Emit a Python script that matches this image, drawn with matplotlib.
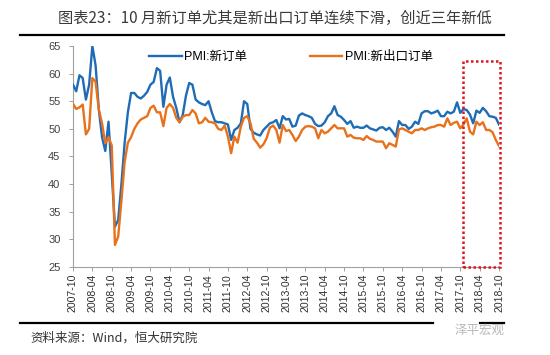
import matplotlib
matplotlib.use("Agg")
import matplotlib.pyplot as plt
from matplotlib.patches import Rectangle
from matplotlib.lines import Line2D

plt.rcParams['font.family'] = ['Liberation Sans', 'Noto Sans CJK SC', 'DejaVu Sans']

# ---- data: monthly, 2007-10 .. 2018-10 ----
start_year, start_month = 2007, 10
new_orders = [
    58.0, 56.8, 59.7,                                                  # 2007-10..12
    59.2, 55.3, 58.0, 65.0, 61.5, 53.5, 48.5, 46.0, 51.3, 42.0, 32.3, 33.5,  # 2008
    40.0, 47.5, 53.0, 56.5, 56.5, 55.8, 55.5, 56.0, 56.7, 58.0, 58.5, 61.0,  # 2009
    60.5, 54.0, 58.0, 59.3, 55.8, 53.8, 51.2, 52.5, 56.0, 58.3, 58.0, 55.3,  # 2010
    54.8, 54.5, 54.3, 55.0, 53.0, 51.4, 51.2, 51.2, 51.0, 50.8, 48.0, 49.8,  # 2011
    50.2, 51.0, 55.0, 54.5, 50.0, 49.3, 49.0, 48.8, 49.8, 50.4, 51.0, 51.2,  # 2012
    51.6, 50.1, 52.3, 51.7, 51.8, 50.4, 50.6, 52.4, 52.8, 52.5, 52.3, 52.0,  # 2013
    50.9, 50.5, 50.6, 51.2, 52.3, 52.8, 54.1, 52.5, 52.2, 51.6, 50.9, 51.4,  # 2014
    50.2, 50.4, 50.2, 50.2, 50.6, 50.1, 49.9, 49.7, 50.2, 50.3, 49.8, 50.2,  # 2015
    49.5, 48.6, 51.4, 50.7, 50.7, 50.0, 50.4, 51.3, 50.9, 52.8, 53.2, 53.2,  # 2016
    52.8, 53.0, 53.3, 52.3, 52.3, 53.1, 52.8, 53.1, 54.8, 52.9, 53.6, 53.4,  # 2017
    52.6, 51.0, 53.3, 52.9, 53.8, 53.2, 52.3, 52.2, 52.0, 50.8,              # 2018-01..10
]
new_export_orders = [
    54.5, 53.6, 53.9,
    54.4, 49.0, 50.0, 59.2, 58.5, 53.5, 51.0, 47.4, 48.5, 47.0, 29.0, 30.5,
    37.0, 44.0, 47.5, 48.5, 50.0, 51.0, 51.7, 52.0, 52.3, 53.8, 54.2, 53.0,
    53.0, 50.5, 53.8, 54.5, 53.8, 52.0, 51.2, 52.2, 52.5, 52.5, 53.4, 52.8,
    51.0, 51.2, 52.0, 51.3, 51.2, 51.0, 50.0, 49.8, 50.6, 48.6, 45.6, 48.6,
    47.5, 50.4, 52.0, 52.3, 51.0, 48.2, 47.5, 46.6, 47.2, 48.3, 50.2, 50.6,
    49.8, 47.5, 50.7, 49.6, 49.8, 48.9, 47.8, 48.6, 49.8, 50.4, 50.5, 50.4,
    50.1, 48.3, 49.8, 49.2, 49.5, 50.1, 50.7, 50.1, 50.1, 50.1, 48.6, 48.9,
    48.4, 48.3, 48.3, 48.0, 48.7, 48.2, 48.0, 47.7, 47.7, 47.7, 46.5, 47.4,
    47.1, 46.8, 49.9, 50.1, 49.8, 49.5, 49.2, 49.8, 49.8, 50.1, 49.8, 50.1,
    50.3, 50.4, 50.7, 50.7, 50.4, 51.9, 50.7, 51.1, 51.3, 50.1, 50.8, 51.9,
    49.5, 49.0, 51.3, 50.7, 51.2, 49.8, 49.8, 49.4, 48.0, 46.9,
]
n = len(new_orders)
assert n == len(new_export_orders) == 133

dates = []
y, m = start_year, start_month
for _ in range(n):
    dates.append(f"{y}-{m:02d}")
    m += 1
    if m > 12:
        m = 1
        y += 1

series_names = ["PMI:新订单", "PMI:新出口订单"]
colors = ["#1f6cb6", "#e8711c"]
title = "图表23：10 月新订单尤其是新出口订单连续下滑，创近三年新低"
source = "资料来源：Wind，恒大研究院"
highlight_from = "2017-11"
y_ticks = [25, 30, 35, 40, 45, 50, 55, 60, 65]

W, H = 550, 355
fig = plt.figure(figsize=(W / 100, H / 100), dpi=100)
ax = fig.add_axes([73 / W, 1 - 267 / H, (499 - 73) / W, (267 - 46) / H])

x = list(range(n))
ax.plot(x, new_orders, color=colors[0], lw=1.7, solid_joinstyle='round', zorder=3)
ax.plot(x, new_export_orders, color=colors[1], lw=1.7, solid_joinstyle='round', zorder=3)

ax.set_xlim(0, n - 1)
ax.set_ylim(25, 65)
ax.set_yticks(y_ticks)
ax.set_yticklabels([str(v) for v in y_ticks], fontsize=8, color="#404040")
tick_idx = [i for i in range(n) if dates[i].endswith("-04") or dates[i].endswith("-10")]
ax.set_xticks(tick_idx)
ax.set_xticklabels([dates[i] for i in tick_idx], rotation=90, fontsize=7.6, color="#303030")
for s in ["top", "right"]:
    ax.spines[s].set_visible(False)
for s in ["left", "bottom"]:
    ax.spines[s].set_color("#a0a0a0")
    ax.spines[s].set_linewidth(0.8)
ax.tick_params(axis="both", direction="out", length=3, width=0.7, color="#a0a0a0", pad=2)
ax.tick_params(axis="y", pad=6)

# highlight box
hx0 = dates.index(highlight_from) - 0.3
rect = Rectangle((hx0, 25), (n - 1) - hx0 + 0.4, 62.3 - 25, fill=False,
                 edgecolor="#e0141e", linestyle=(0, (1, 1)), lw=1.8, zorder=4, clip_on=False)
ax.add_patch(rect)

# legend
handles = [Line2D([], [], color=c, lw=1.7) for c in colors]
leg = fig.legend(handles, series_names, loc="upper left", bbox_to_anchor=(138 / W, 1 - 40 / H),
                 ncol=2, frameon=False, handlelength=2.6, handletextpad=0.2,
                 columnspacing=5.0, prop={"family": ["Liberation Sans", "Noto Sans CJK SC"], "size": 9})

# title and rules
fig.text(275 / W, 1 - 18 / H, title, ha="center", va="center", fontsize=11,
         color="#3a3a3a", family=["Noto Sans CJK SC", "DejaVu Sans"])
fig.add_artist(Line2D([20 / W, 504 / W], [1 - 35 / H] * 2, color="black", lw=1.6))
fig.add_artist(Line2D([20 / W, 433 / W], [1 - 323 / H] * 2, color="black", lw=1.6))
fig.add_artist(Line2D([480 / W, 504 / W], [1 - 323 / H] * 2, color="black", lw=1.6))
fig.text(30 / W, 1 - 338 / H, source, ha="left", va="center", fontsize=9,
         color="#333333", family=["Noto Sans CJK SC", "DejaVu Sans"], style="italic")
fig.text(505 / W, 1 - 330 / H, "泽平宏观", ha="right", va="center", fontsize=9,
         color="#b8b8b8", family=["Noto Sans CJK SC", "DejaVu Sans"])

fig.savefig("out.png", dpi=100)
